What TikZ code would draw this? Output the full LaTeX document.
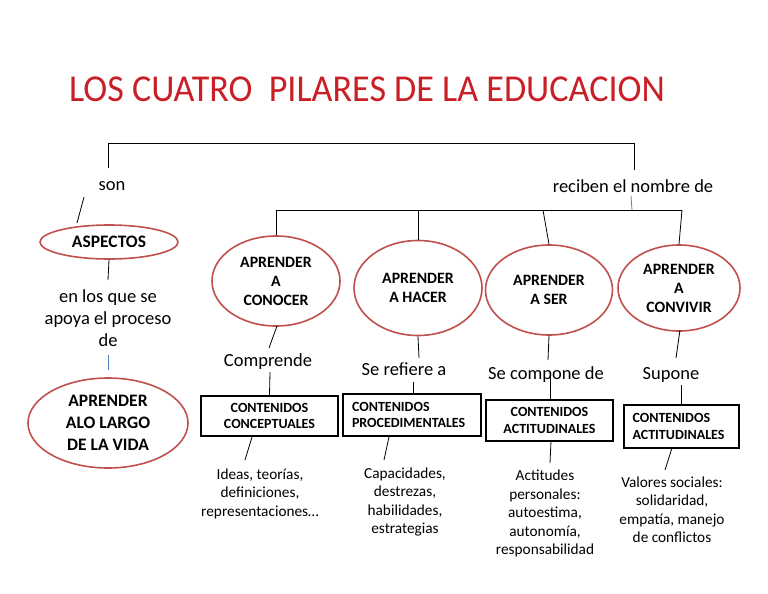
\documentclass[tikz,border=0pt]{standalone}
\usepackage{fontspec}
\setmainfont{Carlito}
\usetikzlibrary{shapes.geometric}
\definecolor{ellred}{RGB}{192,80,77}
\definecolor{titred}{RGB}{200,32,38}
\definecolor{lnblue}{RGB}{79,129,189}
\begin{document}
\begin{tikzpicture}[x=1pt,y=-1pt,
  oval/.style={ellipse,draw=ellred,line width=1.6pt,inner sep=0pt,align=center,font=\fontsize{15.8}{19}\selectfont\bfseries},
  bigoval/.style={oval,font=\fontsize{17.5}{22}\selectfont\bfseries},
  cbox/.style={draw=black,line width=1.6pt,inner sep=0pt,align=center,font=\fontsize{14}{16.5}\selectfont\bfseries},
  lbl/.style={inner sep=0pt,align=center,font=\fontsize{18.5}{22}\selectfont},
  small/.style={inner sep=0pt,align=center,font=\fontsize{15.3}{18.5}\selectfont},
  conn/.style={draw=black,line width=0.8pt},
  bconn/.style={draw=lnblue,line width=0.8pt}]
\useasboundingbox (0,0) rectangle (768,594);
\fill[white] (0,0) rectangle (768,594);
% title
\node[inner sep=0pt,text=titred,font=\fontsize{38}{40}\selectfont] (title) at (367,89) {\scalebox{0.95}[1]{LOS CUATRO\ \ PILARES DE LA EDUCACION}};
% top bracket
\coordinate (tl) at (108,143);
\coordinate (tr) at (634,143);
\node[lbl] (son) at (112,186) {son};
\node[lbl] (reciben) at (633,186) {reciben el nombre de};
\draw[conn] (108,168) -- (tl) -- (tr) -- (634,170);
% ellipses
\node[bigoval,minimum width=138,minimum height=34] (asp) at (109,242) {ASPECTOS};
\node[bigoval,minimum width=160,minimum height=90] (vida) at (108,423) {APRENDER\\ALO LARGO\\DE LA VIDA};
\node[oval,minimum width=128,minimum height=90] (conocer) at (276,281) {APRENDER\\A\\CONOCER};
\node[oval,minimum width=128,minimum height=95] (hacer) at (418,288) {APRENDER\\A HACER};
\node[oval,minimum width=127,minimum height=90] (ser) at (549,290) {APRENDER\\A SER};
\node[oval,minimum width=122,minimum height=86] (convivir) at (679,288) {APRENDER\\A\\CONVIVIR};
\coordinate (sonend) at (77,223);
\draw[conn] (84,197) -- (sonend);
% second bracket
\coordinate (b1) at (276,210);
\coordinate (b4) at (682,210);
\draw[conn] (b1) -- (b4);
\draw[conn] (b1) -- (conocer.north);
\draw[conn] (418,210) -- (hacer.north);
\draw[conn] (543,210) -- (ser.north);
\draw[conn] (682,210) -- (convivir.north);
\draw[bconn] (631,196) -- (632,210);
% left column
\node[lbl] (apoya) at (108,318) {en los que se\\apoya el proceso\\de};
\draw[conn] (asp.south) -- (108,280);
\draw[bconn] (108,355) -- (108,370);
% labels
\node[lbl] (comprende) at (268,362) {Comprende};
\node[lbl] (refiere) at (404,369) {Se refiere a};
\node[lbl] (compone) at (546,375) {Se compone de};
\node[lbl] (supone) at (671,375) {Supone};
% boxes
\node[cbox,minimum width=137,minimum height=40] (bx1) at (269.5,416) {CONTENIDOS\\CONCEPTUALES};
\node[cbox,minimum width=138,minimum height=42,align=left] (bx2) at (412,415) {\makebox[120pt][l]{CONTENIDOS}\\\makebox[120pt][l]{PROCEDIMENTALES}};
\node[cbox,minimum width=127,minimum height=41] (bx3) at (549.5,420.5) {CONTENIDOS\\ACTITUDINALES};
\node[cbox,minimum width=115,minimum height=43,align=left] (bx4) at (681.5,426.5) {\makebox[98pt][l]{CONTENIDOS}\\\makebox[98pt][l]{ACTITUDINALES}};
% connectors ellipse -> label -> box
\draw[conn] (277,326) -- (269,348);
\draw[conn] (270,372) -- (bx1.north);
\draw[conn] (hacer.south) -- (419,358);
\draw[conn] (413,382) -- (413,394);
\draw[conn] (ser.south) -- (548,360);
\draw[conn] (550,374) -- (550,400);
\draw[conn] (680,330) -- (676,358);
\draw[conn] (681,385) -- (681,405);
% lower texts
\node[small] (ideas) at (260,493.5) {Ideas, teorías,\\definiciones,\\representaciones…};
\node[small] (capac) at (405,502) {Capacidades,\\destrezas,\\habilidades,\\estrategias};
\node[small] (actit) at (545,513.5) {Actitudes\\personales:\\autoestima,\\autonomía,\\responsabilidad};
\node[small] (valores) at (672,509.5) {Valores sociales:\\solidaridad,\\empatía, manejo\\de conflictos};
\draw[conn] (252,437) -- (245,460);
\draw[conn] (389,437) -- (384,460);
\draw[conn] (551,441) -- (550,463);
\draw[conn] (672,448) -- (665,470);
\end{tikzpicture}
\end{document}
